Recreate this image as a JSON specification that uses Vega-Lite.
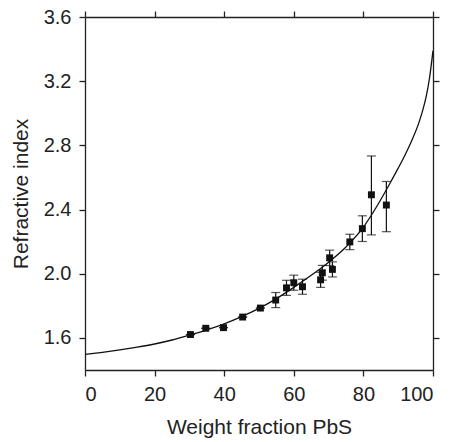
{
  "$schema": "https://vega.github.io/schema/vega-lite/v6.json",
  "width": 348,
  "height": 353,
  "autosize": "none",
  "padding": {"left": 85, "top": 17, "right": 17, "bottom": 72},
  "background": "white",
  "config": {
    "view": {"stroke": null},
    "axis": {
      "domainColor": "#222",
      "tickColor": "#222",
      "domainWidth": 1.3,
      "tickWidth": 1.3,
      "tickSize": 6,
      "grid": false,
      "labelFont": "Liberation Sans",
      "titleFont": "Liberation Sans",
      "labelFontSize": 20,
      "titleFontSize": 21,
      "titleFontWeight": "normal",
      "labelColor": "#222",
      "titleColor": "#222"
    }
  },
  "datasets": {
    "curve": [
      {"w": 0, "n": 1.497},
      {"w": 5, "n": 1.51},
      {"w": 10, "n": 1.525},
      {"w": 15, "n": 1.542},
      {"w": 20, "n": 1.562},
      {"w": 25, "n": 1.587},
      {"w": 30, "n": 1.617},
      {"w": 35, "n": 1.65},
      {"w": 40, "n": 1.688},
      {"w": 45, "n": 1.733},
      {"w": 50, "n": 1.784},
      {"w": 55, "n": 1.845},
      {"w": 60, "n": 1.915},
      {"w": 65, "n": 1.99},
      {"w": 70, "n": 2.072},
      {"w": 75, "n": 2.167},
      {"w": 80, "n": 2.29},
      {"w": 82, "n": 2.355},
      {"w": 84, "n": 2.425},
      {"w": 86, "n": 2.5},
      {"w": 88, "n": 2.578},
      {"w": 90, "n": 2.658},
      {"w": 92, "n": 2.742},
      {"w": 94, "n": 2.835},
      {"w": 96, "n": 2.945},
      {"w": 97, "n": 3.015},
      {"w": 98, "n": 3.1},
      {"w": 99, "n": 3.22},
      {"w": 100, "n": 3.39}
    ],
    "pts": [
      {"w": 30.3, "n": 1.621, "lo": 1.621, "hi": 1.621},
      {"w": 34.7, "n": 1.66, "lo": 1.66, "hi": 1.66},
      {"w": 39.8, "n": 1.664, "lo": 1.664, "hi": 1.664},
      {"w": 45.3, "n": 1.73, "lo": 1.73, "hi": 1.73},
      {"w": 50.4, "n": 1.786, "lo": 1.786, "hi": 1.786},
      {"w": 54.8, "n": 1.836, "lo": 1.789, "hi": 1.883},
      {"w": 57.9, "n": 1.912, "lo": 1.865, "hi": 1.959},
      {"w": 60.0, "n": 1.944, "lo": 1.897, "hi": 1.991},
      {"w": 62.5, "n": 1.919, "lo": 1.872, "hi": 1.966},
      {"w": 67.7, "n": 1.962, "lo": 1.915, "hi": 2.009},
      {"w": 68.2, "n": 2.006, "lo": 1.96, "hi": 2.052},
      {"w": 70.3, "n": 2.099, "lo": 2.051, "hi": 2.147},
      {"w": 71.1, "n": 2.027, "lo": 1.98, "hi": 2.074},
      {"w": 76.1, "n": 2.198, "lo": 2.15, "hi": 2.246},
      {"w": 79.7, "n": 2.281, "lo": 2.201, "hi": 2.361},
      {"w": 82.3, "n": 2.492, "lo": 2.242, "hi": 2.734},
      {"w": 86.6, "n": 2.428, "lo": 2.262, "hi": 2.575}
    ]
  },
  "resolve": {"axis": {"x": "independent", "y": "independent"}},
  "layer": [
    {
      "data": {"name": "curve"},
      "mark": {"type": "line", "color": "#111", "strokeWidth": 1.3, "interpolate": "monotone", "clip": true},
      "encoding": {
        "x": {"field": "w", "type": "quantitative",
              "scale": {"domain": [0, 100], "nice": false, "zero": false},
              "axis": {"orient": "top", "values": [0, 20, 40, 60, 80, 100], "labels": false, "title": null}},
        "y": {"field": "n", "type": "quantitative",
              "scale": {"domain": [1.4, 3.6], "nice": false, "zero": false},
              "axis": {"orient": "right", "values": [1.6, 2.0, 2.4, 2.8, 3.2, 3.6], "labels": false, "title": null}}
      }
    },
    {
      "data": {"name": "pts"},
      "layer": [
        {
          "mark": {"type": "rule", "color": "#111", "strokeWidth": 1.2},
          "encoding": {
            "x": {"field": "w", "type": "quantitative"},
            "y": {"field": "lo", "type": "quantitative"},
            "y2": {"field": "hi"}
          }
        },
        {
          "mark": {"type": "tick", "orient": "horizontal", "color": "#111", "size": 9, "thickness": 1.2},
          "encoding": {
            "x": {"field": "w", "type": "quantitative"},
            "y": {"field": "lo", "type": "quantitative"}
          }
        },
        {
          "mark": {"type": "tick", "orient": "horizontal", "color": "#111", "size": 9, "thickness": 1.2},
          "encoding": {
            "x": {"field": "w", "type": "quantitative"},
            "y": {"field": "hi", "type": "quantitative"}
          }
        },
        {
          "mark": {"type": "square", "color": "#111", "opacity": 1, "size": 48},
          "encoding": {
            "x": {"field": "w", "type": "quantitative",
                  "axis": {"orient": "bottom", "values": [0, 20, 40, 60, 80, 100], "title": "Weight fraction PbS", "labelPadding": 8, "titlePadding": 12}},
            "y": {"field": "n", "type": "quantitative",
                  "axis": {"orient": "left", "values": [1.6, 2.0, 2.4, 2.8, 3.2, 3.6], "format": ".1f", "title": "Refractive index", "labelPadding": 8, "titlePadding": 12}}
          }
        }
      ]
    }
  ]
}
